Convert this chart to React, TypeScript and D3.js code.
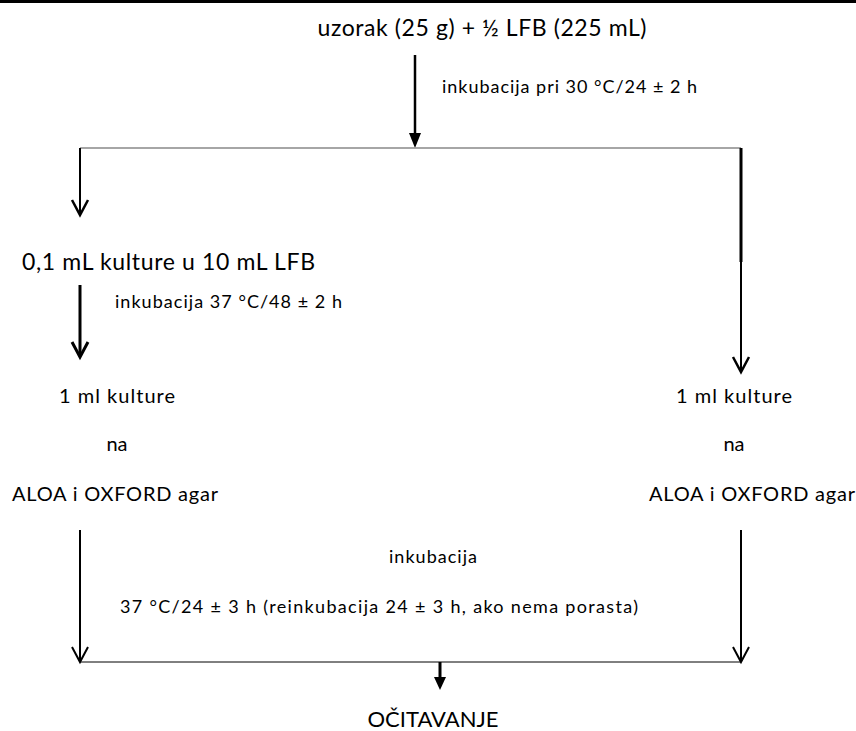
import React from "react";
import * as d3 from "d3";

// text of the flow steps
const titleLabel = "uzorak (25 g) + ½ LFB (225 mL)";
const firstIncubation = "inkubacija pri 30 °C/24 ± 2 h";
const enrichLabel = "0,1 mL kulture u 10 mL LFB";
const secondIncubation = "inkubacija 37 °C/48 ± 2 h";
const plateLabels = ["1 ml kulture", "na", "ALOA i OXFORD agar"];
const finalIncubation = ["inkubacija", "37 °C/24 ± 3 h (reinkubacija 24 ± 3 h, ako nema porasta)"];
const resultLabel = "OČITAVANJE";

const width = 856;
const height = 731;
const font = "Lato, 'Open Sans', sans-serif";

export default function App() {
  React.useEffect(() => {
    document.body.style.margin = "0";
  }, []);

  // column positions
  const x = d3.scaleOrdinal<string, number>()
    .domain(["left", "mid", "right", "split", "join"])
    .range([80, 433, 741, 415, 440]);
  // row positions
  const y = d3.scaleOrdinal<string, number>()
    .domain(["title", "inc1", "branch", "enrich", "inc2", "p0", "p1", "p2", "inc3a", "inc3b", "merge", "result"])
    .range([36, 93, 148, 270, 308, 403, 451, 501, 563, 613, 662, 727]);

  const chevron = (cx: number, tipY: number) =>
    d3.line()([[cx - 8, tipY - 15], [cx, tipY], [cx + 8, tipY - 15]]) || "";
  const triangle = (cx: number, tipY: number, w: number, h: number) =>
    d3.line()([[cx - w / 2, tipY - h], [cx + w / 2, tipY - h], [cx, tipY]]) + "Z";

  const plateCols = [
    { cx: 117, agarX: 115 },
    { cx: 734, agarX: 752 },
  ];

  return (
    <svg width={width} height={height} style={{ display: "block", background: "#fff" }} fontFamily={font}>
      <rect x={0} y={0} width={width} height={3} fill="#000" />

      {/* title and first arrow */}
      <text x={482} y={y("title")} fontSize={23} textAnchor="middle" textLength={329} lengthAdjust="spacing" fill="#000">{titleLabel}</text>
      <line x1={x("split")} x2={x("split")} y1={55} y2={y("branch") - 12} stroke="#000" strokeWidth={2.5} />
      <path d={triangle(x("split"), y("branch"), 12, 15)} fill="#000" />
      <text x={442} y={y("inc1")} fontSize={18} textLength={255} lengthAdjust="spacing" fill="#000">{firstIncubation}</text>

      {/* branch line */}
      <line x1={x("left")} x2={x("right")} y1={y("branch")} y2={y("branch")} stroke="#888" strokeWidth={1.5} />
      <line x1={x("left")} x2={x("left")} y1={y("branch")} y2={215} stroke="#000" strokeWidth={2} />
      <path d={chevron(x("left"), 215)} fill="none" stroke="#000" strokeWidth={2.5} />
      <line x1={x("right")} x2={x("right")} y1={y("branch")} y2={262} stroke="#000" strokeWidth={3} />
      <line x1={x("right")} x2={x("right")} y1={262} y2={372} stroke="#000" strokeWidth={2} />
      <path d={chevron(x("right"), 372)} fill="none" stroke="#000" strokeWidth={2.5} />

      {/* enrichment */}
      <text x={22} y={y("enrich")} fontSize={23} textLength={293} lengthAdjust="spacing" fill="#000">{enrichLabel}</text>
      <line x1={x("left")} x2={x("left")} y1={285} y2={355} stroke="#000" strokeWidth={3} />
      <path d={chevron(x("left"), 357)} fill="none" stroke="#000" strokeWidth={3} />
      <text x={115} y={y("inc2")} fontSize={18} textLength={227} lengthAdjust="spacing" fill="#000">{secondIncubation}</text>

      {/* plating columns */}
      {plateCols.map((c, i) => (
        <g key={i}>
          <text x={c.cx} y={y("p0")} fontSize={20} textAnchor="middle" textLength={116} lengthAdjust="spacing" fill="#000">{plateLabels[0]}</text>
          <text x={c.cx} y={y("p1")} fontSize={20} textAnchor="middle" fill="#000">{plateLabels[1]}</text>
          <text x={c.agarX} y={y("p2")} fontSize={20} textAnchor="middle" textLength={206} lengthAdjust="spacing" fill="#000">{plateLabels[2]}</text>
        </g>
      ))}

      {/* final incubation arrows */}
      {[x("left"), x("right")].map((cx, i) => (
        <g key={i}>
          <line x1={cx} x2={cx} y1={530} y2={y("merge")} stroke="#000" strokeWidth={2} />
          <path d={chevron(cx, y("merge"))} fill="none" stroke="#000" strokeWidth={2} />
        </g>
      ))}
      <text x={x("mid")} y={y("inc3a")} fontSize={18} textAnchor="middle" textLength={88} lengthAdjust="spacing" fill="#000">{finalIncubation[0]}</text>
      <text x={120} y={y("inc3b")} fontSize={18} textLength={518} lengthAdjust="spacing" fill="#000">{finalIncubation[1]}</text>

      <line x1={x("left")} x2={x("right")} y1={y("merge")} y2={y("merge")} stroke="#000" strokeWidth={1} />
      <line x1={x("join")} x2={x("join")} y1={y("merge")} y2={680} stroke="#000" strokeWidth={3} />
      <path d={triangle(x("join"), 690, 12, 13)} fill="#000" />

      <text x={x("mid")} y={y("result")} fontSize={22} textAnchor="middle" fill="#000">{resultLabel}</text>
    </svg>
  );
}
